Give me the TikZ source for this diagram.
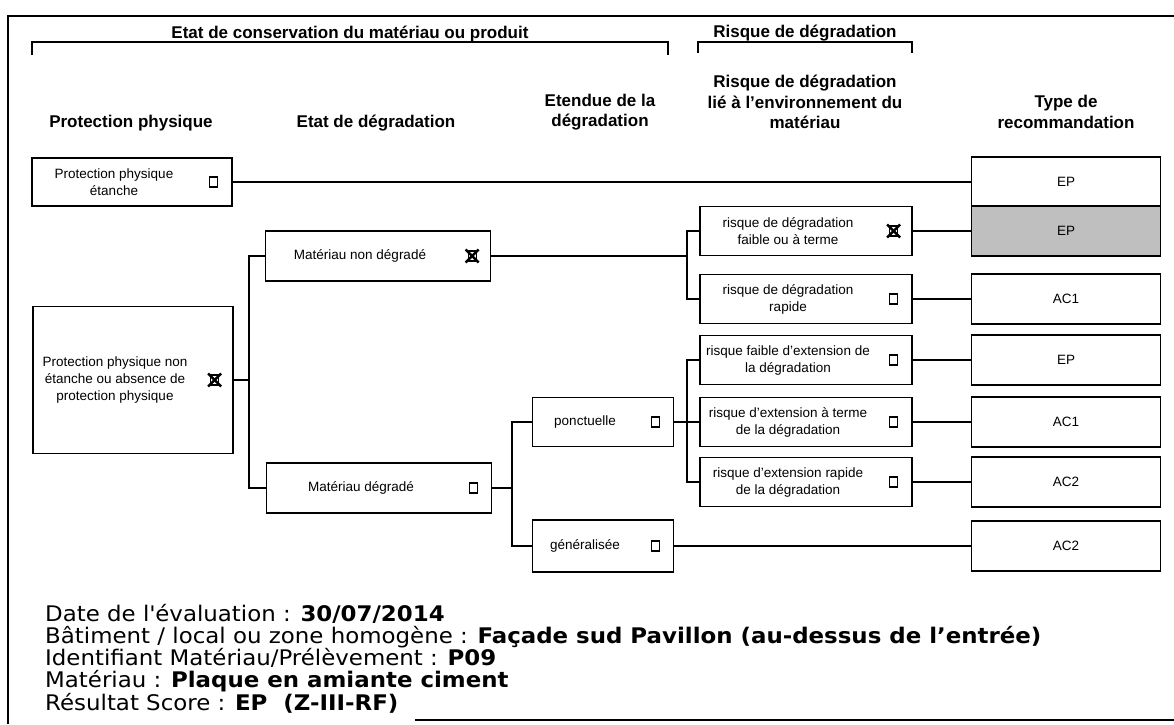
\documentclass[tikz,border=0pt]{standalone}
\usepackage{fontspec}
\setmainfont{Liberation Sans}
\newfontfamily\infofont{DejaVu Sans}[FakeStretch=1.065]
\usepackage{tikz}

\begin{document}
\begin{tikzpicture}[x=1pt,y=-1pt,
  box/.style={draw,line width=1.3pt,inner sep=0pt},
  txt/.style={align=center,inner sep=0pt,font=\fontsize{13.5}{17}\selectfont},
  chk/.style={draw,line width=1.2pt,minimum width=8pt,minimum height=10pt,inner sep=0pt},
  cross/.style={line width=2.4pt},
  head/.style={align=center,inner sep=0pt,font=\bfseries\fontsize{17}{20.5}\selectfont},
  link/.style={line width=1.1pt}]
  \useasboundingbox (0,0) rectangle (1174,724);

  % frame
  \draw[line width=1.4pt] (8,724) -- (8,16) -- (1174,16);
  \draw[line width=1.4pt] (415,720) -- (1174,720);

  \node[head,anchor=base] (hdCons) at (350,38) {Etat de conservation du matériau ou produit};
  \draw[link] (32,55) -- (32,42) -- (668,42) -- (668,55);
  \node[head,anchor=base] (hdRisk) at (805,37) {Risque de dégradation};
  \draw[link] (698,53) -- (698,42) -- (912,42) -- (912,53);

  \node[head] (hdProt) at (131,123) {Protection physique};
  \node[head] (hdEtat) at (376,123) {Etat de dégradation};
  \node[head] (hdEtend) at (600,112) {Etendue de la\\dégradation};
  \node[head] (hdEnv) at (805,102) {Risque de dégradation\\lié à l'environnement du\\matériau};
  \node[head] (hdType) at (1066,112) {Type de\\recommandation};

  \foreach \nm/\x/\y/\w/\h/\mk/\txt in {
    A/132/182/200/48/0/{Protection physique\\étanche},
    B/133/380/200/147/1/{Protection physique non\\étanche ou absence de\\protection physique},
    C/378/256/225/50/1/{Matériau non dégradé},
    D/379/488/225/50/0/{Matériau dégradé},
    E/603/422/141/49/0/{ponctuelle},
    F/603/546/141/52/0/{généralisée},
    G/806/231/212/49/1/{risque de dégradation\\faible ou à terme},
    H/806/299/212/49/0/{risque de dégradation\\rapide},
    I/806/360/212/49/0/{risque faible d'extension de\\la dégradation},
    J/806/422/212/49/0/{risque d'extension à terme\\de la dégradation},
    K/806/482/212/49/0/{risque d'extension rapide\\de la dégradation}} {
    \node[box,minimum width=\w pt,minimum height=\h pt] (\nm) at (\x,\y) {};
    \node[txt] (\nm-t) at ([xshift=-18pt]\nm.center) {\txt};
    \node[chk] (\nm-c) at ([xshift=-19pt]\nm.east) {};
    \ifnum\mk=1
      \draw[cross] ([xshift=-6.5pt,yshift=6.5pt]\nm-c.center) -- ([xshift=6.5pt,yshift=-6.5pt]\nm-c.center);
      \draw[cross] ([xshift=-6.5pt,yshift=-6.5pt]\nm-c.center) -- ([xshift=6.5pt,yshift=6.5pt]\nm-c.center);
    \fi
  }

  \foreach \nm/\y/\fc/\txt in {R1/182/white/EP, R2/231/black!25/EP, R3/299/white/AC1,
    R4/360/white/EP, R5/422/white/AC1, R6/482/white/AC2, R7/546/white/AC2} {
    \node[box,fill=\fc,minimum width=189pt,minimum height=50pt,font=\fontsize{13.5}{17}\selectfont] (\nm) at (1066,\y) {\txt};
  }

  \coordinate (tB) at (249,380);
  \coordinate (tC) at (687,256);
  \coordinate (tD) at (512,488);
  \coordinate (tE) at (687,422);

  \draw[link] (A.east) -- (R1.west);
  \draw[link] (B.east) -- (tB);
  \draw[link] (C.west) -| (tB) |- (D.west);
  \draw[link] (C.east) -- (tC);
  \draw[link] (G.west) -| (tC) |- (H.west);
  \draw[link] (D.east) -- (tD);
  \draw[link] (E.west) -| (tD) |- (F.west);
  \draw[link] (E.east) -- (J.west);
  \draw[link] (I.west) -| (tE) |- (K.west);
  \draw[link] (G.east) -- (R2.west);
  \draw[link] (H.east) -- (R3.west);
  \draw[link] (I.east) -- (R4.west);
  \draw[link] (J.east) -- (R5.west);
  \draw[link] (K.east) -- (R6.west);
  \draw[link] (F.east) -- (R7.west);

  \node[anchor=base west,align=left,inner sep=0pt,font=\infofont\fontsize{21.5}{21.5}\selectfont] (info) at (45,710)
    {Date de l\textquotesingle évaluation : \textbf{30/07/2014}\\
     Bâtiment / local ou zone homogène : \textbf{Façade sud Pavillon (au-dessus de l’entrée)}\\
     Identifiant Matériau/Prélèvement : \textbf{P09}\\
     Matériau : \textbf{Plaque en amiante ciment}\\
     Résultat Score : \textbf{EP~~(Z-III-RF)}};
\end{tikzpicture}
\end{document}
